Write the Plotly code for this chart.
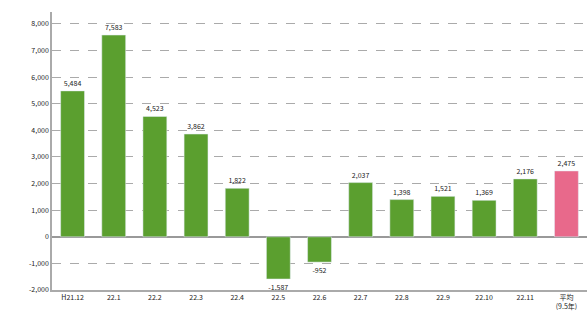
import plotly.graph_objects as go

categories = ["H21.12", "22.1", "22.2", "22.3", "22.4", "22.5", "22.6", "22.7", "22.8", "22.9", "22.10", "22.11", "平均<br>(9.5年)"]
values = [5484, 7583, 4523, 3862, 1822, -1587, -952, 2037, 1398, 1521, 1369, 2176, 2475]
colors = ["#5b9f2f"] * 12 + ["#e8698b"]
tick_vals = [-2000, -1000, 0, 1000, 2000, 3000, 4000, 5000, 6000, 7000, 8000]
tick_text = ["-2,000", "-1,000", "0", "1,000", "2,000", "3,000", "4,000", "5,000", "6,000", "7,000", "8,000"]

labels = [f"{v:,}" for v in values]

fig = go.Figure()
fig.add_trace(go.Bar(
    x=categories, y=values, marker_color=colors, width=0.58,
    text=labels, textposition="outside", cliponaxis=False,
    textfont=dict(size=7, color="#222222", family="Noto Sans CJK JP"),
))
fig.update_layout(
    width=587, height=316,
    margin=dict(l=52, r=0, t=12, b=26, autoexpand=False),
    plot_bgcolor="white", paper_bgcolor="white",
    showlegend=False,
    font=dict(family="Noto Sans CJK JP", size=7, color="#222222"),
    uniformtext=dict(minsize=7, mode="show"),
)
fig.update_yaxes(
    range=[-2000, 8450], tickvals=tick_vals, ticktext=tick_text,
    showgrid=True, gridcolor="#aaaaaa", griddash="dash", gridwidth=1,
    zeroline=True, zerolinecolor="#999999", zerolinewidth=1.5,
    showline=True, linecolor="#aaaaaa", linewidth=1.5,
    tickfont=dict(size=7, color="#222222"), ticks="", automargin=False,
)
fig.update_xaxes(
    range=[-0.5, 12.5],
    showline=True, linecolor="#aaaaaa", linewidth=1.5,
    tickfont=dict(size=7, color="#222222"), ticks="", automargin=False,
)
fig.write_html("out.html", config={"displayModeBar": False},
               post_script="document.body.style.margin='0';document.body.style.overflow='hidden';")
